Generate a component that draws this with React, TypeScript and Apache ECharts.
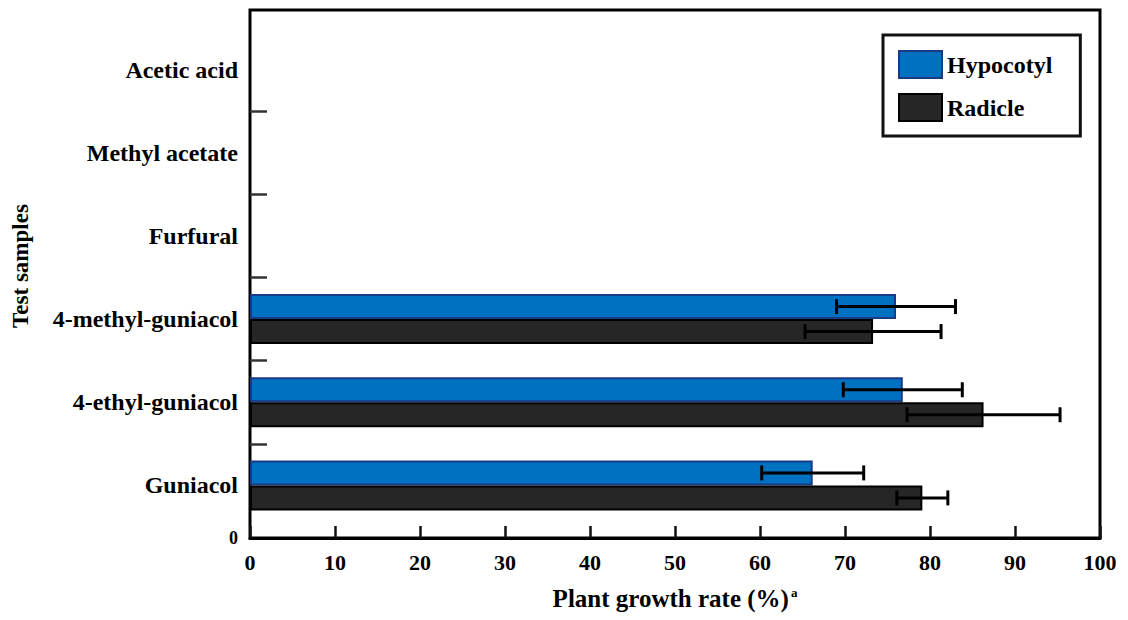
import React, { useEffect, useRef } from "react";
import * as echarts from "echarts";

// ---- data ----
const categories = [
  "Guniacol",
  "4-ethyl-guniacol",
  "4-methyl-guniacol",
  "Furfural",
  "Methyl acetate",
  "Acetic acid",
];
const hypocotyl: (number | null)[] = [66.2, 76.8, 76.0, null, null, null];
const hypocotylErr: (number | null)[] = [6, 7, 7, null, null, null];
const radicle: (number | null)[] = [79.1, 86.3, 73.3, null, null, null];
const radicleErr: (number | null)[] = [3, 9, 8, null, null, null];
const xMin = 0;
const xMax = 100;
const xInterval = 10;

// ---- layout ----
const W = 1128;
const H = 620;
const FRAME = { left: 250, right: 28, top: 10, bottom: 82 };
const BANDS = { top: 28, bottom: 93 };
const BAR_W = 25;
const FONT = "Liberation Serif";
const BLUE = "#0070C0";
const DARK = "#262626";

function errData(vals: (number | null)[], errs: (number | null)[]) {
  const out: any[] = [];
  vals.forEach((v, i) => {
    if (v != null && errs[i] != null) out.push([i, v, errs[i]]);
  });
  return out;
}

function makeErrRender(offsetSign: number) {
  return (params: any, api: any) => {
    const cat = api.value(0);
    const v = api.value(1);
    const e = api.value(2);
    const c = api.coord([v, cat]);
    const lo = api.coord([v - e, cat]);
    const hi = api.coord([v + e, cat]);
    const y = c[1] + (offsetSign * BAR_W) / 2;
    const cap = 7.5;
    const st = { stroke: "#000", lineWidth: 3 };
    return {
      type: "group",
      children: [
        { type: "line", shape: { x1: lo[0], y1: y, x2: hi[0], y2: y }, style: st },
        { type: "line", shape: { x1: lo[0], y1: y - cap, x2: lo[0], y2: y + cap }, style: st },
        { type: "line", shape: { x1: hi[0], y1: y - cap, x2: hi[0], y2: y + cap }, style: st },
      ],
    };
  };
}

export default function App() {
  const ref = useRef<HTMLDivElement>(null);
  useEffect(() => {
    if (!ref.current) return;
    const chart = echarts.init(ref.current, null, { renderer: "svg" });
    const n = categories.length;
    const bandH = (H - BANDS.top - BANDS.bottom) / n;
    const yMin = -0.5 - (BANDS.bottom - FRAME.bottom) / bandH;
    const yMax = n - 0.5 + (BANDS.top - FRAME.top) / bandH;
    const boundaries: number[] = [];
    for (let i = 0; i < n - 1; i++) boundaries.push(i + 0.5);

    const txt = { fontFamily: FONT, fontWeight: "bold" as const, color: "#000" };

    chart.setOption({
      animation: false,
      backgroundColor: "#fff",
      textStyle: { fontFamily: FONT },
      grid: [
        { left: FRAME.left, right: FRAME.right, top: BANDS.top, bottom: BANDS.bottom, show: false },
        {
          left: FRAME.left,
          right: FRAME.right,
          top: FRAME.top,
          bottom: FRAME.bottom,
          show: true,
          borderWidth: 3,
          borderColor: "#000",
          backgroundColor: "transparent",
        },
      ],
      legend: {
        orient: "vertical",
        left: 883,
        top: 35,
        padding: [15, 28, 14, 15],
        borderWidth: 3,
        borderColor: "#111",
        itemWidth: 43,
        itemHeight: 27,
        itemGap: 14,
        icon: "rect",
        data: ["Hypocotyl", "Radicle"],
        textStyle: { ...txt, fontSize: 24 },
      },
      xAxis: [
        { type: "value", gridIndex: 0, min: xMin, max: xMax, interval: xInterval, show: false },
        {
          type: "value",
          gridIndex: 1,
          min: xMin,
          max: xMax,
          interval: xInterval,
          position: "bottom",
          axisLine: { show: true, onZero: false, lineStyle: { color: "#000", width: 3 } },
          axisTick: { show: true, inside: true, length: 12, lineStyle: { color: "#111", width: 2.5 } },
          splitLine: { show: false },
          axisLabel: { ...txt, fontSize: 22, margin: 13 },
          name: "{m|Plant growth rate (%)}{s|a}",
          nameLocation: "middle",
          nameGap: 48,
          nameTextStyle: {
            rich: {
              m: { ...txt, fontSize: 25 },
              s: { ...txt, fontSize: 13, verticalAlign: "top", padding: [0, 0, 12, 2] },
            },
          },
        },
      ],
      yAxis: [
        {
          type: "category",
          gridIndex: 0,
          data: categories,
          axisLine: { show: false },
          axisTick: { show: false },
          splitLine: { show: false },
          axisLabel: { ...txt, fontSize: 24, margin: 12 },
        },
        {
          type: "value",
          gridIndex: 1,
          min: yMin,
          max: yMax,
          axisLine: { show: false, onZero: false },
          splitLine: { show: false },
          axisTick: {
            show: true,
            inside: true,
            length: 17,
            customValues: boundaries,
            lineStyle: { color: "#333", width: 2.5 },
          },
          axisLabel: {
            ...txt,
            fontSize: 18,
            margin: 12,
            customValues: [yMin],
            formatter: () => "0",
          },
          name: "Test samples",
          nameLocation: "middle",
          nameGap: 218,
          nameTextStyle: { ...txt, fontSize: 23, padding: [0, 0, 0, 16] },
        },
      ],
      series: [
        {
          name: "Hypocotyl",
          type: "bar",
          xAxisIndex: 0,
          yAxisIndex: 0,
          barWidth: BAR_W,
          barGap: "0%",
          data: hypocotyl,
          itemStyle: { color: BLUE, borderColor: "#1b3a86", borderWidth: 2 },
        },
        {
          name: "Radicle",
          type: "bar",
          xAxisIndex: 0,
          yAxisIndex: 0,
          barWidth: BAR_W,
          barGap: "0%",
          data: radicle,
          itemStyle: { color: DARK, borderColor: "#000", borderWidth: 2 },
        },
        {
          type: "custom",
          xAxisIndex: 0,
          yAxisIndex: 0,
          encode: { x: 1, y: 0 },
          renderItem: makeErrRender(-1),
          data: errData(hypocotyl, hypocotylErr),
          z: 5,
          silent: true,
        },
        {
          type: "custom",
          xAxisIndex: 0,
          yAxisIndex: 0,
          encode: { x: 1, y: 0 },
          renderItem: makeErrRender(1),
          data: errData(radicle, radicleErr),
          z: 5,
          silent: true,
        },
      ],
    });
    return () => chart.dispose();
  }, []);
  return (
    <div
      ref={ref}
      style={{ position: "fixed", left: 0, top: 0, width: W, height: H, background: "#fff" }}
    />
  );
}
